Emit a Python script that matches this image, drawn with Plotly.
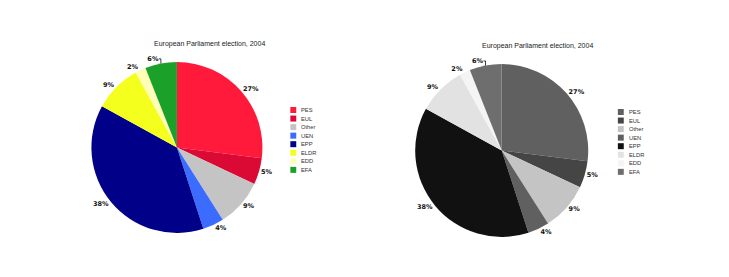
import plotly.graph_objects as go

parties = ["PES", "EUL", "Other", "UEN", "EPP", "ELDR", "EDD", "EFA"]
shares = [27, 5, 9, 4, 38, 9, 2, 6]
colors = ["#FF1A3C", "#DA0A35", "#C4C4C4", "#3B6CFF", "#000088", "#F5FF1E", "#FFFFB8", "#1BA12A"]
grays = ["#606060", "#454545", "#C4C4C4", "#606060", "#111111", "#E2E2E2", "#F4F4F4", "#6E6E6E"]
title = "European Parliament election, 2004"

W, H = 729, 277
fig = go.Figure()
panels = [
    dict(cols=colors, dx=[0.05, 0.41], dy=[1 - 233 / H, 1 - 62 / H], title_xy=(201, 44), leg=(283, 110)),
    dict(cols=grays, dx=[0.503, 0.863], dy=[1 - 237 / H, 1 - 64 / H], title_xy=(534, 46), leg=(616, 112)),
]
shapes, annotations = [], []
for p in panels:
    fig.add_trace(go.Pie(
        labels=parties, values=shares, sort=False, direction="clockwise", rotation=0,
        marker=dict(colors=p["cols"], line=dict(width=0)),
        textposition="outside", texttemplate="%{value}%",
        textfont=dict(family="DejaVu Sans", size=6.5, color="#111", weight="bold"),
        domain=dict(x=p["dx"], y=p["dy"]),
        showlegend=False, hoverinfo="label+percent",
    ))
    tx, ty = p["title_xy"]
    annotations.append(dict(text=title, x=tx / W, y=1 - ty / H, xref="paper", yref="paper",
                            xanchor="center", yanchor="middle",
                            showarrow=False, font=dict(family="Liberation Sans", size=7, color="#222")))
    lx, ly = p["leg"]
    for i, (name, c) in enumerate(zip(parties, p["cols"])):
        yc = ly + i * 8.55
        shapes.append(dict(type="rect", xref="paper", yref="paper",
                           x0=lx / W, x1=(lx + 6) / W, y0=1 - (yc - 3) / H, y1=1 - (yc + 3) / H,
                           fillcolor=c, line=dict(width=0)))
        annotations.append(dict(text=name, x=(lx + 9) / W, y=1 - yc / H, xref="paper", yref="paper",
                                xanchor="left", yanchor="middle", showarrow=False,
                                font=dict(family="Liberation Sans", size=5.8, color="#333")))

fig.update_layout(
    width=W, height=H, margin=dict(l=0, r=0, t=0, b=0),
    paper_bgcolor="white", plot_bgcolor="white",
    shapes=shapes, annotations=annotations,
)
fig.write_html("out.html")
